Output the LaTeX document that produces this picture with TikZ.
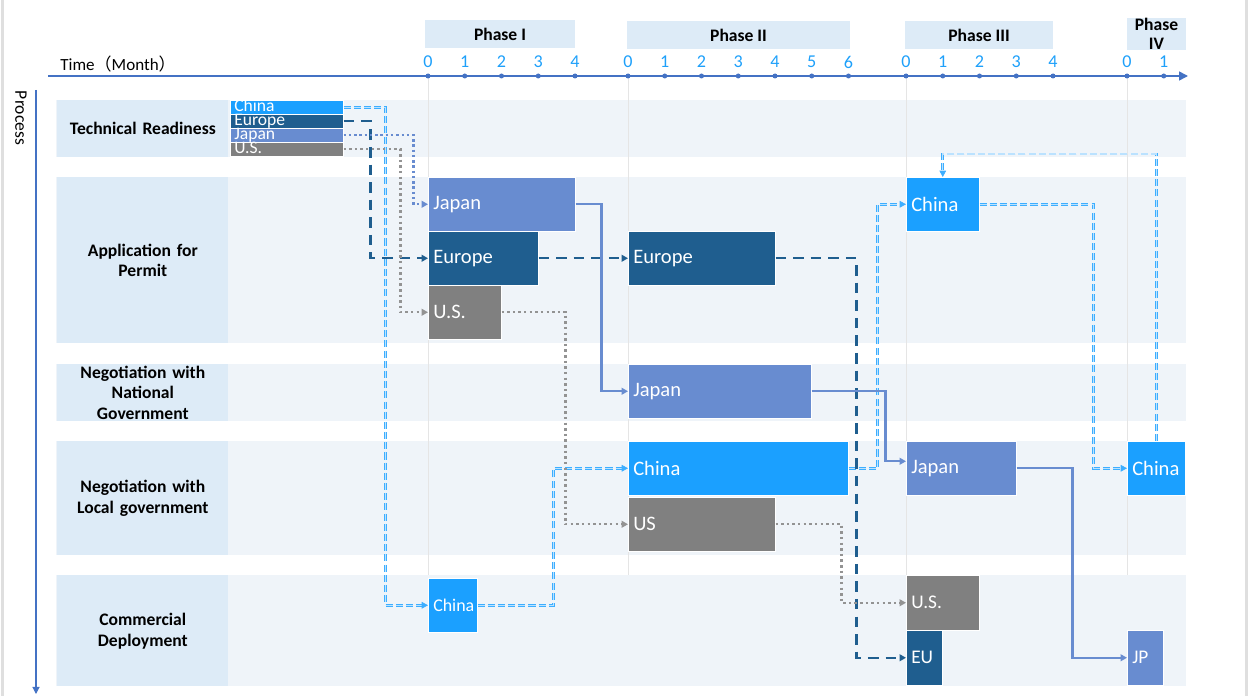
\documentclass[tikz,border=0pt]{standalone}
\usepackage{fontspec}
\setmainfont{Carlito}
\newfontfamily\cjk{Noto Sans CJK SC}
\usetikzlibrary{arrows.meta, positioning}

\definecolor{cn}{RGB}{27,160,255}
\definecolor{eu}{RGB}{31,94,143}
\definecolor{jp}{RGB}{104,140,208}
\definecolor{us}{RGB}{128,128,128}
\definecolor{lanefill}{RGB}{239,244,249}
\definecolor{headfill}{RGB}{221,235,247}
\definecolor{axisblue}{RGB}{68,114,196}
\definecolor{tickblue}{RGB}{30,160,250}

\begin{document}
\begin{tikzpicture}[x=0.02cm, y=-0.02cm,
	bar/.style n args={3}{fill=#1, draw=white, line width=0.3pt, anchor=north west, inner xsep=0.1cm, inner ysep=0pt,
		text width=#2*0.02cm-0.2cm, minimum height=#3*0.02cm, align=left, text=white, font=\fontsize{11.7}{12}\selectfont},
	keybar/.style={bar={#1}{113}{14}, inner xsep=0.08cm, text width=113*0.02cm-0.16cm, text height=6pt, text depth=1pt, font=\fontsize{10}{10}\selectfont},
	lanehead/.style={fill=headfill, anchor=north west, inner xsep=0.02cm, inner ysep=0pt, text width=3.38cm, align=center, font=\fontsize{10}{11.8}\selectfont\bfseries},
	phase/.style={fill=headfill, inner sep=0pt, minimum height=0.56cm, align=center, font=\fontsize{10}{10.5}\selectfont\bfseries},
	tick/.style={text=tickblue, inner sep=0pt, font=\fontsize{10.3}{10}\selectfont},
	tip/.style={-{Triangle[length=3.6pt, width=3.8pt]}},
	cnline/.style={draw=cn!85, line width=0.45pt, double=cn!30, double distance=0.8pt, dash pattern=on 4pt off 1.8pt, tip},
	euline/.style={draw=eu, line width=1.3pt, dash pattern=on 6pt off 4pt, tip},
	jpline/.style={draw=jp, line width=1.3pt, tip},
	jpdots/.style={jpline, line width=1.4pt, dash pattern=on 1.4pt off 1.6pt},
	usline/.style={draw=us!85, line width=1.4pt, dash pattern=on 1.4pt off 1.8pt, tip}]
	\useasboundingbox (0,0) rectangle (1249,696);
	\fill[gray!25] (1,0) rectangle (4,696);
	\fill[gray!25] (1245,0) rectangle (1248,696);

	% lanes
	\foreach \top/\h/\txt [count=\k] in {100/57/{Technical Readiness}, 177/166/{Application for\\Permit},
			364/57/{Negotiation with\\National\\Government}, 441/114/{Negotiation with\\Local government},
			575/111/{Commercial\\Deployment}} {
		\fill[lanefill] (56,\top) rectangle (1186,\top+\h);
		\node[lanehead, minimum height=\h*0.02cm] (lane\k) at (57,\top) {\txt};
	}
	\foreach \x in {428,628,906,1127}
		\draw[gray!20, line width=0.4pt] (\x,76) -- (\x,575);

	% time axis
	\node[anchor=west, inner sep=0pt, font=\fontsize{9.7}{10}\selectfont] (time) at (60,64) {Time{\cjk （}Month{\cjk ）}};
	\draw[draw=axisblue, line width=0.9pt, -{Triangle[length=5pt, width=5pt]}] (48,76) -- (1188,76);
	\foreach \x/\n in {428/4, 628/6, 906/4, 1127/1}
		\foreach \i in {0,...,\n} {
			\fill[axisblue] (\x+\i*36.75,76) circle (0.05cm);
			\node[tick] (t\x-\i) at (\x+\i*36.75,62) {\i};
		}
	\node[phase, minimum width=150*0.02cm] (ph1) at (500,34) {Phase I};
	\node[phase, minimum width=223*0.02cm] (ph2) at (738.5,35) {Phase II};
	\node[phase, minimum width=148*0.02cm] (ph3) at (979,35) {Phase III};
	\node[phase, minimum width=59*0.02cm, minimum height=0.64cm] (ph4) at (1156.5,34) {Phase\\IV};

	% process axis
	\draw[draw=axisblue, line width=0.6pt, -{Triangle[length=4pt, width=4pt]}] (36,90) -- (36,694);
	\node[rotate=-90, inner sep=0pt, font=\fontsize{10}{10}\selectfont] (process) at (21,118) {Process};

	% technical readiness
	\node[keybar=cn] (trChina) at (230,100) {China};
	\node[keybar=eu] (trEurope) at (230,114) {Europe};
	\node[keybar=jp] (trJapan) at (230,128) {Japan};
	\node[keybar=us] (trUS) at (230,142) {U.S.};

	% bars
	\node[bar={jp}{147}{54}] (apJapan) at (428,177) {Japan};
	\node[bar={eu}{110}{54}] (apEurope) at (428,231) {Europe};
	\node[bar={us}{73}{54}] (apUS) at (428,285) {U.S.};
	\node[bar={eu}{147}{54}] (apEurope2) at (628,231) {Europe};
	\node[bar={cn}{73}{54}] (apChina) at (906,177) {China};
	\node[bar={jp}{183}{54}] (ngJapan) at (628,364) {Japan};
	\node[bar={cn}{220}{54}] (lgChina) at (628,441) {China};
	\node[bar={us}{147}{54}] (lgUS) at (628,497) {US};
	\node[bar={jp}{110}{54}] (lgJapan) at (906,441) {Japan};
	\node[bar={cn}{58}{54}] (lgChina2) at (1127,441) {China};
	\node[bar={cn}{49}{54}, font=\fontsize{10.2}{10}\selectfont] (cdChina) at (428,578) {China};
	\node[bar={us}{73}{55}, font=\fontsize{11}{11}\selectfont] (cdUS) at (906,575) {U.S.};
	\node[bar={eu}{36}{55}, font=\fontsize{11}{11}\selectfont] (cdEU) at (906,630) {EU};
	\node[bar={jp}{36}{55}, font=\fontsize{11}{11}\selectfont] (cdJP) at (1127,630) {JP};

	% China
	\draw[cnline] (trChina.east) -- ++(42,0) |- (cdChina.west);
	\draw[cnline] (cdChina.east) -- ++(76,0) |- (lgChina.west);
	\draw[cnline] (lgChina.east) -- ++(29,0) |- (apChina.west);
	\draw[cnline] (apChina.east) -- ++(114,0) |- (lgChina2.west);
	\draw[cnline] (lgChina2.north) -- ++(0,-287) -| (apChina.north);
	% Europe
	\draw[euline] (trEurope.east) -- ++(27,0) |- (apEurope.west);
	\draw[euline] (apEurope.east) -- (apEurope2.west);
	\draw[euline] (apEurope2.east) -- ++(81,0) |- (cdEU.west);
	% Japan
	\draw[jpdots] (trJapan.east) -- ++(70,0) |- (apJapan.west);
	\draw[jpline] (apJapan.east) -- ++(26,0) |- (ngJapan.west);
	\draw[jpline] (ngJapan.east) -- ++(74,0) |- ([yshift=0.14cm]lgJapan.west);
	\draw[jpline] (lgJapan.east) -- ++(56,0) |- (cdJP.west);
	% U.S.
	\draw[usline] (trUS.east) -- ++(57,0) |- (apUS.west);
	\draw[usline] (apUS.east) -- ++(64,0) |- (lgUS.west);
	\draw[usline] (lgUS.east) -- ++(66,0) |- (cdUS.west);
\end{tikzpicture}
\end{document}
